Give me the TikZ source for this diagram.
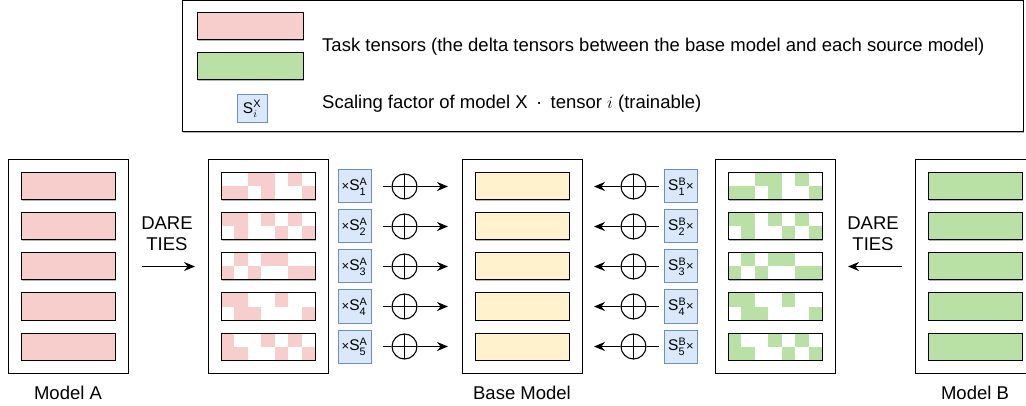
\documentclass[tikz,border=0pt]{standalone}
\usepackage{amsmath}
\usepackage{fontspec}
\setmainfont{Liberation Sans}
\usetikzlibrary{arrows.meta,shadows}
\definecolor{tpink}{HTML}{F8CECC}
\definecolor{tgreen}{HTML}{B9E0A5}
\definecolor{tyellow}{HTML}{FFF2CC}
\definecolor{sblue}{HTML}{DAE8FC}
\definecolor{sborder}{HTML}{6C8EBF}
\newcommand{\sfac}[2]{S$^{\text{#1}}_{#2}$}
\newcommand{\tms}{{\fontsize{13}{13}\selectfont ×}}

\begin{document}
\begin{tikzpicture}[x=1pt, y=-1pt, >={Stealth[length=11pt,width=9pt]},
    font=\fontsize{18.5}{21}\selectfont,
    shadowed/.style={drop shadow={shadow xshift=1.2pt, shadow yshift=-1.2pt, fill=black!50, opacity=.6}},
    modelbox/.style={draw, fill=white, line width=1pt, minimum width=120, minimum height=213, outer sep=0, shadowed},
    tensor/.style={draw, fill=white, line width=1pt, minimum width=94, minimum height=27, inner sep=0, outer sep=0, shadowed},
    scalebox/.style={draw=sborder, fill=sblue, line width=1pt, minimum size=33, inner sep=0, font=\fontsize{15.5}{15.5}\selectfont},
    plus/.style={draw, circle, line width=1.1pt, minimum size=25, inner sep=0,
        path picture={\draw[line width=1.1pt] (path picture bounding box.north) -- (path picture bounding box.south)
            (path picture bounding box.west) -- (path picture bounding box.east);}},
    legtext/.style={anchor=west, inner sep=0},
    link/.style={line width=1.2pt}]
    \useasboundingbox (0,0) rectangle (1026,406);
    % legend
    \node[draw, fill=white, line width=1pt, minimum width=841, minimum height=131, shadowed] (legend) at (602.5,66.5) {};
    \node[tensor, fill=tpink, minimum width=106] (lp) at (250,26.5) {};
    \node[tensor, fill=tgreen, minimum width=106] (lg) at (250,66.5) {};
    \node[scalebox, minimum width=30, minimum height=28] (ls) at (252,109) {\sfac{X}{i}};
    \node[legtext] (lt1) at (322,47) {Task tensors (the delta tensors between the base model and each source model)};
    \node[legtext] (lt2) at (322,104) {Scaling factor of model X\hspace{.45em}·\hspace{.45em}tensor $i$ (trainable)};
    % models
    \node[modelbox] (ma) at (68,266.5) {};
    \node[modelbox] (sa) at (268,266.5) {};
    \node[modelbox] (bm) at (522,266.5) {};
    \node[modelbox] (sb) at (775,266.5) {};
    \node[modelbox] (mb) at (975,266.5) {};
    \node (na) at (68,393) {Model A};
    \node (nb) at (522,393) {Base Model};
    \node (nc) at (975,393) {Model B};
    \node[align=center] (da) at (167,234) {DARE\\TIES};
    \node[align=center] (db) at (873,234) {DARE\\TIES};
    \draw[link, ->] ([xshift=14]ma.east) -- ([xshift=-13]sa.west);
    \draw[link, ->] ([xshift=-13]mb.west) -- ([xshift=13]sb.east);
    % tensors, row by row
    \foreach \i/\pat in {1/{2/0,3/0,5/0,0/1,1/1,3/1,6/1}, 2/{0/0,1/0,3/0,5/0,1/1,4/1,6/1},
        3/{1/0,3/0,4/0,0/1,2/1,5/1,6/1}, 4/{0/0,1/0,4/0,1/1,2/1,6/1}, 5/{0/0,3/0,5/0,0/1,1/1,4/1,6/1}}{
        \pgfmathsetmacro{\y}{146.5+40*\i}
        \node[tensor, fill=tpink] (ta\i) at (68,\y) {};
        \node[tensor, fill=tyellow] (tb\i) at (522,\y) {};
        \node[tensor, fill=tgreen] (tc\i) at (975,\y) {};
        \node[tensor] (xa\i) at (268,\y) {};
        \node[tensor] (xc\i) at (775,\y) {};
        \foreach \c/\r in \pat {
            \fill[tpink] ([shift={(\c*94/7,\r*13.5)}]xa\i.north west) rectangle ++(94/7,13.5);
            \fill[tgreen] ([shift={(\c*94/7,\r*13.5)}]xc\i.north west) rectangle ++(94/7,13.5);
        }
        \draw[line width=1pt] (xa\i.north west) rectangle (xa\i.south east);
        \draw[line width=1pt] (xc\i.north west) rectangle (xc\i.south east);
        \node[scalebox] (fa\i) at (354.5,\y) {\tms\sfac{A}{\text{\i}}};
        \node[scalebox] (fc\i) at (681,\y) {\sfac{B}{\text{\i}}\tms};
        \node[plus] (pa\i) at (404.5,\y) {};
        \node[plus] (pc\i) at (633.5,\y) {};
        \draw[link] ([xshift=11]fa\i.east) -- (pa\i.west);
        \draw[link, ->] (pa\i.east) -- ([xshift=-27]tb\i.west);
        \draw[link] ([xshift=-5]fc\i.west) -- (pc\i.east);
        \draw[link, ->] (pc\i.west) -- ([xshift=25]tb\i.east);
    }
\end{tikzpicture}
\end{document}
